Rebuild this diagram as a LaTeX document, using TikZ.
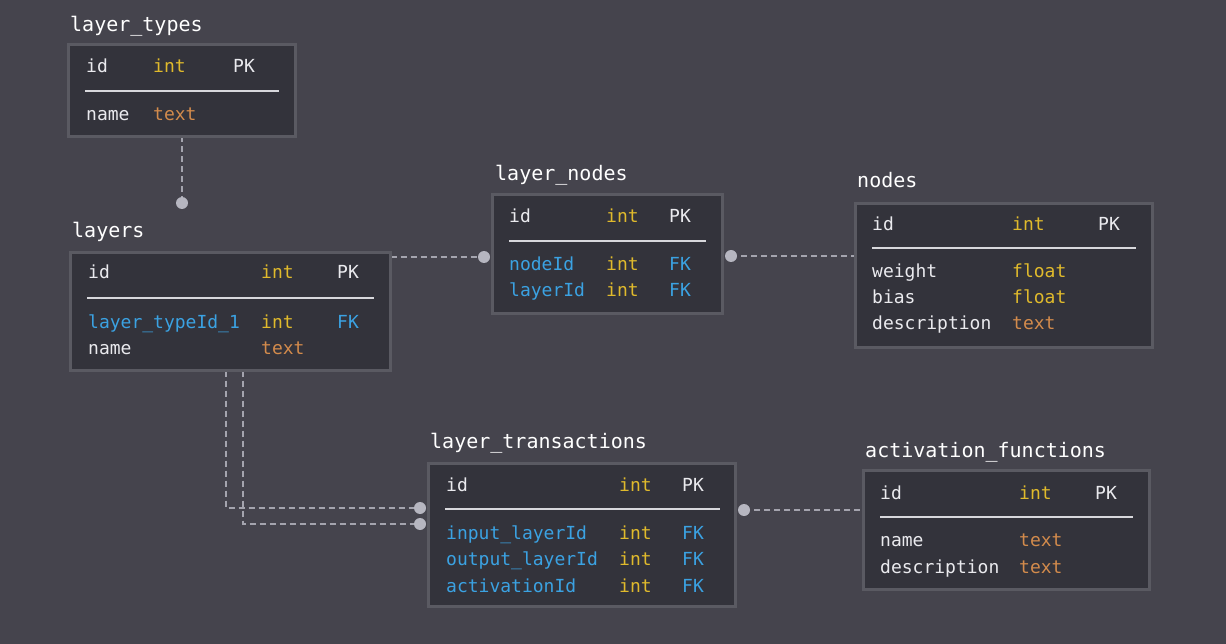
\documentclass[tikz,border=0pt]{standalone}
\usepackage{fontspec}
\newfontfamily\dmono{DejaVu Sans Mono}
\definecolor{bgc}{HTML}{45444D}
\definecolor{tfill}{HTML}{33333B}
\definecolor{tborder}{HTML}{5A5A62}
\definecolor{ftext}{HTML}{EAEAEE}
\definecolor{tyellow}{HTML}{E0BA2C}
\definecolor{torange}{HTML}{D38B4C}
\definecolor{tblue}{HTML}{3BA2E2}
\definecolor{sepcol}{HTML}{D8D8DC}
\definecolor{conncol}{HTML}{A4A4AE}
\definecolor{dotcol}{HTML}{B6B6C0}
\pgfdeclarelayer{bgl}
\pgfdeclarelayer{connl}
\pgfsetlayers{bgl,connl,main}
\tikzset{
  tbl/.style={rectangle, draw=tborder, fill=tfill, line width=3pt, inner sep=0pt, outer sep=0pt},
  ttl/.style={anchor=base west, inner sep=0pt, text=white, font=\dmono\fontsize{20}{24}\selectfont},
  fld/.style={anchor=base west, inner sep=0pt, text=ftext, font=\dmono\fontsize{18}{22}\selectfont},
  typ/.style={fld, text=tyellow},
  otxt/.style={fld, text=torange},
  fk/.style={fld, text=tblue},
  sepline/.style={draw=sepcol, line width=2pt},
  conn/.style={draw=conncol, line width=2pt, dash pattern=on 6pt off 4pt},
  dotnode/.style={circle, fill=dotcol, inner sep=0pt, minimum size=12pt}
}
\begin{document}
\begin{tikzpicture}[x=1pt,y=-1pt]
\begin{pgfonlayer}{bgl}
\fill[bgc] (0,0) rectangle (1226,644);
\end{pgfonlayer}
\useasboundingbox (0,0) rectangle (1226,644);

% tables
\node[tbl, minimum width=227pt, minimum height=92pt] (lt) at (182,90.5) {};
\node[tbl, minimum width=320pt, minimum height=118pt] (ly) at (230.5,311.5) {};
\node[tbl, minimum width=230pt, minimum height=119pt] (ln) at (607.5,254) {};
\node[tbl, minimum width=297pt, minimum height=144pt] (nd) at (1004,275.5) {};
\node[tbl, minimum width=307pt, minimum height=143pt] (lx) at (582,535) {};
\node[tbl, minimum width=286pt, minimum height=119pt] (af) at (1006.5,530) {};

% dots
\node[dotnode] (dLt) at (182,203) {};
\node[dotnode] (dLn1) at (484,257) {};
\node[dotnode] (dLn2) at (731,256) {};
\node[dotnode] (dLx1) at (420,508) {};
\node[dotnode] (dLx2) at (420,524) {};
\node[dotnode] (dLx3) at (744,510) {};

% connectors
\begin{pgfonlayer}{connl}
\draw[conn] (lt.south) -- (dLt.center);
\draw[conn] (ly.east |- dLn1) -- (dLn1.center);
\draw[conn] (dLn2.center) -- (dLn2 -| nd.west);
\draw[conn] ([xshift=-4.5pt]ly.south) |- (dLx1.center);
\draw[conn] ([xshift=12.5pt]ly.south) |- (dLx2.center);
\draw[conn] (dLx3.center) -- (dLx3 -| af.west);
\end{pgfonlayer}

% titles
\node[ttl] (tlt) at (70,32) {layer\_types};
\node[ttl] (tly) at (72,238) {layers};
\node[ttl] (tln) at (495,181) {layer\_nodes};
\node[ttl] (tnd) at (857,188) {nodes};
\node[ttl] (tlx) at (430,448) {layer\_transactions};
\node[ttl] (taf) at (865,457) {activation\_functions};

% layer_types
\node[fld] (lt1a) at (86,73) {id};
\node[typ] (lt1b) at (153,73) {int};
\node[fld] (lt1c) at (233,73) {PK};
\draw[sepline] (85,91) -- (279,91);
\node[fld] (lt2a) at (86,121) {name};
\node[otxt] (lt2b) at (153,121) {text};

% layers
\node[fld] (ly1a) at (88,279) {id};
\node[typ] (ly1b) at (261,279) {int};
\node[fld] (ly1c) at (337,279) {PK};
\draw[sepline] (87,298) -- (374,298);
\node[fk] (ly2a) at (88,328) {layer\_typeId\_1};
\node[typ] (ly2b) at (261,328) {int};
\node[fk] (ly2c) at (337,328) {FK};
\node[fld] (ly3a) at (88,354) {name};
\node[otxt] (ly3b) at (261,354) {text};

% layer_nodes
\node[fld] (ln1a) at (509,223) {id};
\node[typ] (ln1b) at (606,223) {int};
\node[fld] (ln1c) at (669,223) {PK};
\draw[sepline] (509,241) -- (706,241);
\node[fk] (ln2a) at (509,271) {nodeId};
\node[typ] (ln2b) at (606,271) {int};
\node[fk] (ln2c) at (669,271) {FK};
\node[fk] (ln3a) at (509,297) {layerId};
\node[typ] (ln3b) at (606,297) {int};
\node[fk] (ln3c) at (669,297) {FK};

% nodes
\node[fld] (nd1a) at (872,231) {id};
\node[typ] (nd1b) at (1012,231) {int};
\node[fld] (nd1c) at (1098,231) {PK};
\draw[sepline] (872,248) -- (1136,248);
\node[fld] (nd2a) at (872,278) {weight};
\node[typ] (nd2b) at (1012,278) {float};
\node[fld] (nd3a) at (872,304) {bias};
\node[typ] (nd3b) at (1012,304) {float};
\node[fld] (nd4a) at (872,330) {description};
\node[otxt] (nd4b) at (1012,330) {text};

% layer_transactions
\node[fld] (lx1a) at (446,491) {id};
\node[typ] (lx1b) at (619,491) {int};
\node[fld] (lx1c) at (682,491) {PK};
\draw[sepline] (445,509) -- (720,509);
\node[fk] (lx2a) at (446,539) {input\_layerId};
\node[typ] (lx2b) at (619,539) {int};
\node[fk] (lx2c) at (682,539) {FK};
\node[fk] (lx3a) at (446,565) {output\_layerId};
\node[typ] (lx3b) at (619,565) {int};
\node[fk] (lx3c) at (682,565) {FK};
\node[fk] (lx4a) at (446,592) {activationId};
\node[typ] (lx4b) at (619,592) {int};
\node[fk] (lx4c) at (682,592) {FK};

% activation_functions
\node[fld] (af1a) at (880,499) {id};
\node[typ] (af1b) at (1019,499) {int};
\node[fld] (af1c) at (1095,499) {PK};
\draw[sepline] (880,517) -- (1133,517);
\node[fld] (af2a) at (880,546) {name};
\node[otxt] (af2b) at (1019,546) {text};
\node[fld] (af3a) at (880,573) {description};
\node[otxt] (af3b) at (1019,573) {text};
\end{tikzpicture}
\end{document}
